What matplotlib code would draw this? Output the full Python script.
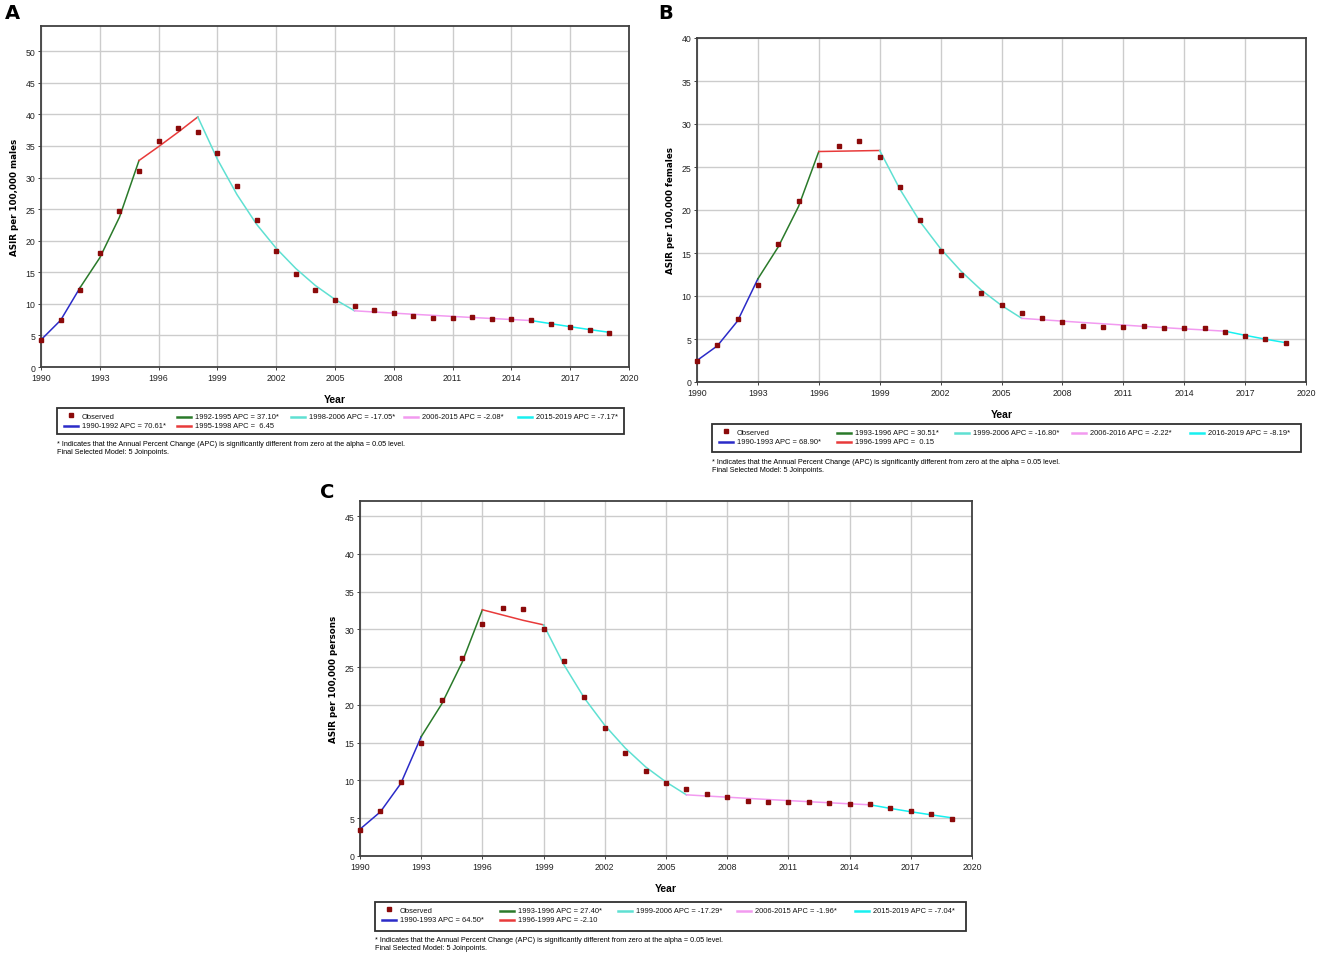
import matplotlib
matplotlib.use('Agg')
import matplotlib.pyplot as plt
from matplotlib.lines import Line2D
from matplotlib.patches import Rectangle
import numpy as np

years = list(range(1990, 2020))

# Panel A - males
obs_males = [4.3, 7.5, 12.2, 18.1, 24.7, 31.0, 35.8, 37.9, 37.2, 33.9,
             28.7, 23.2, 18.4, 14.7, 12.2, 10.6, 9.65, 8.97, 8.54, 8.0,
             7.75, 7.8, 7.9, 7.65, 7.54, 7.44, 6.86, 6.33, 5.9, 5.38]
fit_males = [4.3, 7.4, 12.6, 17.3, 23.7, 32.7, 34.9, 37.2, 39.6, 32.9,
             27.3, 22.6, 18.8, 15.6, 12.9, 10.7, 8.9, 8.71, 8.53, 8.35,
             8.18, 8.01, 7.84, 7.68, 7.52, 7.36, 6.87, 6.38, 5.92, 5.49]
joints_males = [1990, 1992, 1995, 1998, 2006, 2015, 2019]
apc_males = ['70.61*', '37.10*', ' 6.45', '-17.05*', '-2.08*', '-7.17*']

# Panel B - females
obs_females = [2.4, 4.3, 7.27, 11.3, 16.1, 21.0, 25.2, 27.5, 28.0, 26.2,
               22.7, 18.8, 15.2, 12.4, 10.3, 8.9, 8.05, 7.5, 7.0, 6.5,
               6.35, 6.4, 6.5, 6.3, 6.27, 6.27, 5.8, 5.34, 5.0, 4.5]
fit_females = [2.5, 4.2, 7.1, 12.0, 15.7, 20.4, 26.8, 26.84, 26.88, 26.92,
               22.4, 18.6, 15.5, 12.9, 10.7, 8.9, 7.4, 7.24, 7.08, 6.92,
               6.77, 6.62, 6.47, 6.32, 6.18, 6.05, 5.91, 5.43, 4.98, 4.57]
joints_females = [1990, 1993, 1996, 1999, 2006, 2016, 2019]
apc_females = ['68.90*', '30.51*', ' 0.15', '-16.80*', '-2.22*', '-8.19*']

# Panel C - persons
obs_persons = [3.4, 6.0, 9.8, 14.9, 20.6, 26.2, 30.7, 32.9, 32.7, 30.1,
               25.8, 21.0, 16.9, 13.6, 11.3, 9.7, 8.85, 8.2, 7.8, 7.3,
               7.1, 7.2, 7.2, 7.0, 6.95, 6.95, 6.3, 5.9, 5.5, 4.96]
fit_persons = [3.55, 5.85, 9.6, 15.8, 20.1, 25.6, 32.6, 31.9, 31.2, 30.6,
               25.3, 20.9, 17.3, 14.3, 11.8, 9.8, 8.1, 7.94, 7.79, 7.63,
               7.48, 7.34, 7.19, 7.05, 6.91, 6.78, 6.30, 5.86, 5.45, 5.06]
joints_persons = [1990, 1993, 1996, 1999, 2006, 2015, 2019]
apc_persons = ['64.50*', '27.40*', '-2.10', '-17.29*', '-1.96*', '-7.04*']

seg_colors = ['#2b2bc8', '#2a7a2a', '#e83a3a', '#5fe0d2', '#f29af0', '#18f0f0']
obs_color = '#8b0a0a'
FOOT1 = '* Indicates that the Annual Percent Change (APC) is significantly different from zero at the alpha = 0.05 level.'
FOOT2 = 'Final Selected Model: 5 Joinpoints.'

plt.rcParams['font.family'] = ['Liberation Sans', 'DejaVu Sans']

fig = plt.figure(figsize=(13.25, 9.62), dpi=100)
W, H = 1325.0, 962.0


def fx(x):
    return x / W


def fy(y):
    return 1 - y / H


def px_rect(x0, y0, x1, y1):
    # pixel box (top-left origin) -> figure fraction rect
    return [x0 / W, 1 - y1 / H, (x1 - x0) / W, (y1 - y0) / H]


def draw_legend(box, labels):
    x0, y0, x1, y1 = box
    fig.patches.append(Rectangle((fx(x0), fy(y1)), fx(x1 - x0), (y1 - y0) / H,
                                 transform=fig.transFigure, fill=False,
                                 edgecolor='#303030', lw=1.3))
    row_y = [y0 + 8.5, y0 + 17.5]
    colw = (x1 - x0) / 5.0
    # slots: (column, row) for Observed then the six segments
    slots = [(0, 0), (0, 1), (1, 0), (1, 1), (2, 0), (3, 0), (4, 0)]
    for k, (c, r) in enumerate(slots):
        hx = x0 + 7 + c * colw
        yy = row_y[r]
        if k == 0:
            fig.lines.append(Line2D([fx(hx + 7)], [fy(yy - 2)], marker='s',
                                    markersize=2.6, color=obs_color,
                                    transform=fig.transFigure))
        else:
            fig.lines.append(Line2D([fx(hx), fx(hx + 14)], [fy(yy), fy(yy)],
                                    color=seg_colors[k - 1], lw=1.8,
                                    transform=fig.transFigure))
        fig.text(fx(hx + 18), fy(yy), labels[k], fontsize=5.4, va='center',
                 ha='left', color='#111111')
    fig.text(fx(x0), fy(y1 + 9), FOOT1, fontsize=5.2, va='center')
    fig.text(fx(x0), fy(y1 + 17), FOOT2, fontsize=5.2, va='center')


def draw_panel(rect, legend_box, letter, letter_xy, ylabel, ymax, yticks,
               obs, fit, joints, apcs):
    ax = fig.add_axes(px_rect(*rect))
    yrs = np.array(years)
    fit = np.array(fit)
    labels = ['Observed']
    for i in range(len(joints) - 1):
        m = (yrs >= joints[i]) & (yrs <= joints[i + 1])
        ax.plot(yrs[m], fit[m], color=seg_colors[i], lw=1.1, zorder=3)
        labels.append(f'{joints[i]}-{joints[i + 1]} APC = {apcs[i]}')
    ax.plot(yrs, obs, 's', color=obs_color, markersize=3.5, zorder=4,
            clip_on=False)

    ax.set_xlim(1990, 2020)
    ax.set_ylim(0, ymax)
    ax.set_xticks(range(1990, 2021, 3))
    ax.set_yticks(yticks)
    ax.grid(True, color='#cccccc', lw=1.0)
    ax.set_axisbelow(True)
    ax.tick_params(labelsize=6.3, length=2, width=0.6, pad=2, colors='#222222')
    for s in ax.spines.values():
        s.set_color('#404040')
        s.set_linewidth(1.3)
    ax.set_xlabel('Year', fontsize=7.5, fontweight='bold', labelpad=9)
    ax.set_ylabel(ylabel, fontsize=6.3, fontweight='bold', labelpad=5,
                  family='DejaVu Sans')

    draw_legend(legend_box, labels)
    fig.text(fx(letter_xy[0]), fy(letter_xy[1]), letter, fontsize=14,
             fontweight='bold', family='DejaVu Sans', va='top', ha='left')
    return ax


draw_panel((41, 27, 629, 368), (57, 409, 624, 435), 'A', (5, 4),
           'ASIR per 100,000 males', 54, range(0, 51, 5),
           obs_males, fit_males, joints_males, apc_males)
draw_panel((697, 39, 1306, 383), (712, 425, 1301, 453), 'B', (658, 4),
           'ASIR per 100,000 females', 40, range(0, 41, 5),
           obs_females, fit_females, joints_females, apc_females)
draw_panel((360, 502, 972, 857), (375, 903, 966, 932), 'C', (320, 483),
           'ASIR per 100,000 persons', 47, range(0, 46, 5),
           obs_persons, fit_persons, joints_persons, apc_persons)

fig.savefig('out.png', dpi=100)
